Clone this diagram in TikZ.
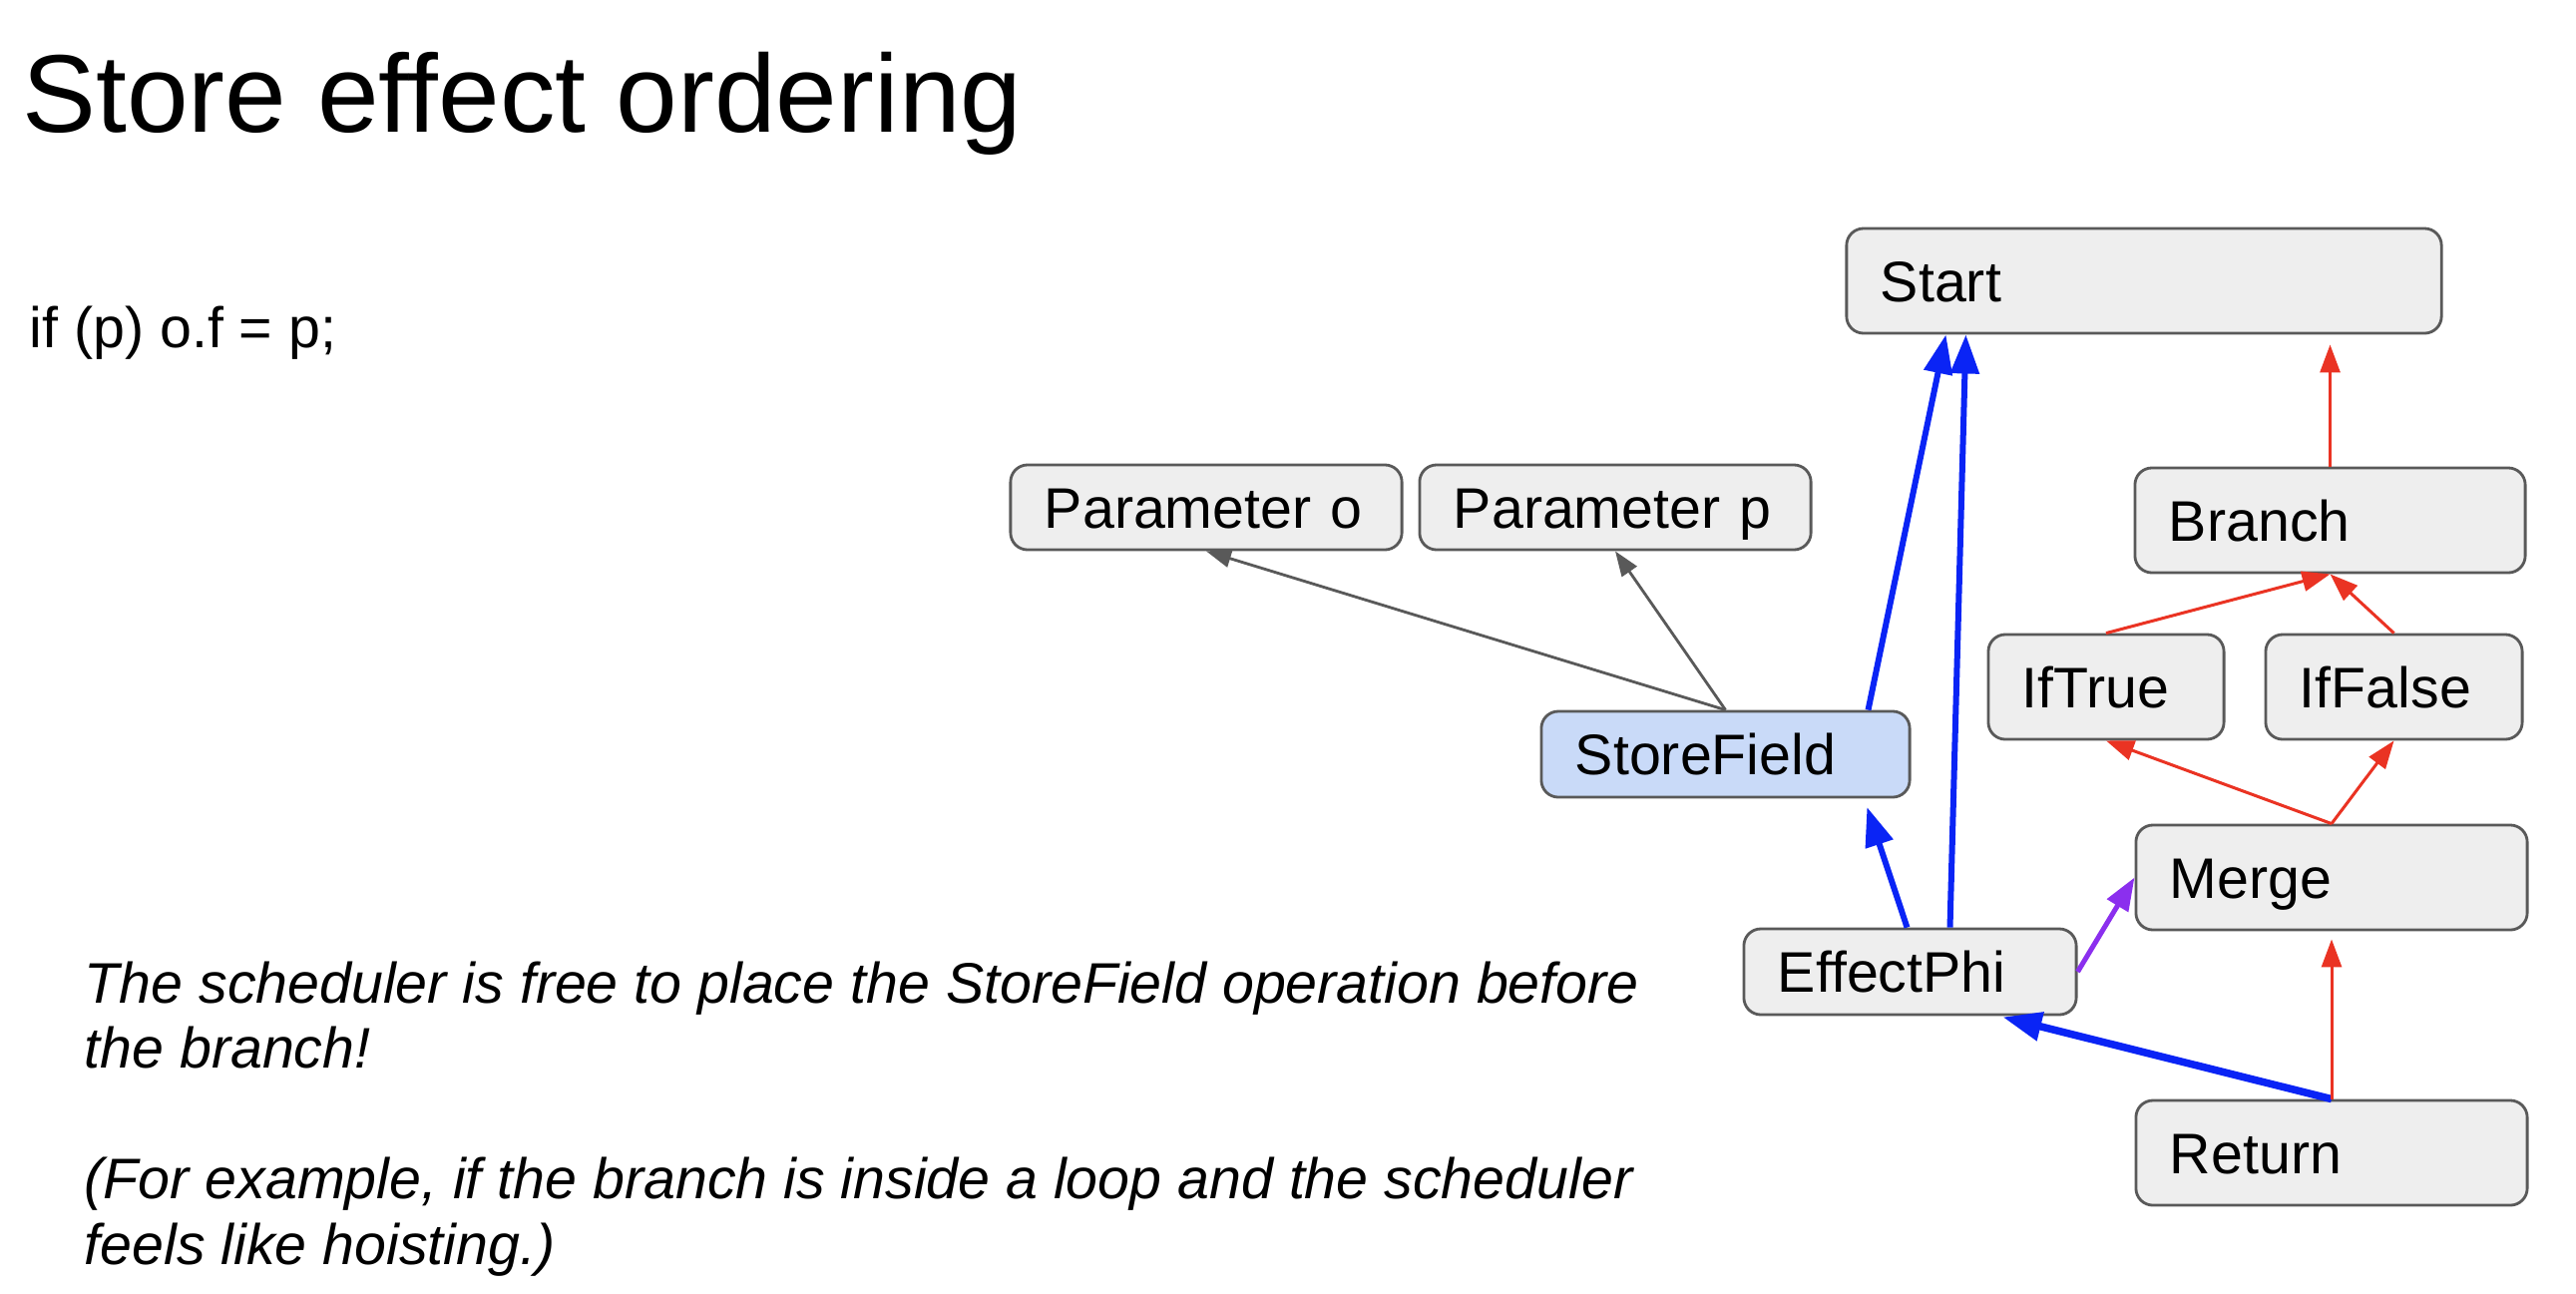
\documentclass[tikz,border=0pt]{standalone}
\usepackage{fontspec}
\setmainfont{Liberation Sans}
\usetikzlibrary{arrows.meta,calc}

\definecolor{opfill}{HTML}{EEEEEE}
\definecolor{opline}{HTML}{595959}
\definecolor{storefill}{HTML}{C9DAF8}
\definecolor{effblue}{HTML}{0A24F5}
\definecolor{ctlred}{HTML}{EA3323}
\definecolor{phipurple}{HTML}{8B2FEE}

\begin{document}
\begin{tikzpicture}[x=0.01cm, y=-0.01cm,
	every node/.style={font=\fontsize{16.3}{18.6}\selectfont},
	op/.style={draw=opline, fill=opfill, line width=0.8pt, rounded corners=0.17cm,
		align=left, inner xsep=0.34cm, inner ysep=0pt, text height=11.7pt, text depth=0pt},
	tall/.style={minimum height=1.05cm},
	short/.style={minimum height=0.86cm},
	effedge/.style={draw=effblue, line width=0.06cm, -{Triangle[length=0.39cm,width=0.28cm]}},
	ctledge/.style={draw=ctlred, line width=0.03cm, -{Triangle[length=0.28cm,width=0.2cm]}},
	valedge/.style={draw=opline, line width=0.028cm, -{Triangle[length=0.25cm,width=0.18cm]}}]
	\useasboundingbox (0,0) rectangle (2582,1296);

	\node[anchor=base west, inner sep=0pt, font=\fontsize{31.5}{36}\selectfont] (title) at (22,132) {Store effect ordering};
	\node[anchor=base west, inner sep=0pt] (code) at (29,348) {if (p) o.f = p;};
	% base of a multi-line node is its last line
	\node[anchor=base west, inner sep=0pt, align=left, font=\fontsize{16.3}{18.6}\selectfont\itshape] (note) at (84,1267)
		{The scheduler is free to place the StoreField operation before\\the branch!\\[18.6pt](For example, if the branch is inside a loop and the scheduler\\feels like hoisting.)};

	% graph nodes
	\node[op, tall, text width=5.28cm] (start) at (2149,281.5) {Start};
	\node[op, short, text width=3.24cm, minimum height=0.85cm] (paro) at (1209,508.5) {Parameter o};
	\node[op, short, text width=3.24cm, minimum height=0.85cm] (parp) at (1619,508.5) {Parameter p};
	\node[op, tall, text width=3.23cm] (branch) at (2335.5,521.5) {Branch};
	\node[op, tall, text width=1.68cm] (iftrue) at (2111,688.5) {IfTrue};
	\node[op, tall, text width=1.89cm] (iffalse) at (2399.5,688.5) {IfFalse};
	\node[op, short, fill=storefill, text width=3.01cm] (store) at (1729.5,756) {StoreField};
	\node[op, tall, text width=3.24cm] (merge) at (2337,879.5) {Merge};
	\node[op, short, text width=2.65cm] (ephi) at (1914.5,974) {EffectPhi};
	\node[op, tall, text width=3.24cm] (ret) at (2337,1155.5) {Return};

	% value inputs
	\draw[valedge] (store.north) -- (paro.south);
	\draw[valedge] (store.north) -- (parp.south);
	% effect chain
	\draw[effedge] ($(store.north east)+(-43,0)$) -- ($(start.south west)+(101,0)$);
	\draw[effedge] ($(ephi.north west)+(208,0)$) -- ($(start.south west)+(121,0)$);
	\draw[effedge, shorten >=0.09cm] ($(ephi.north west)+(165,0)$) -- ($(store.south east)+(-47,0)$);
	\draw[effedge, line width=0.075cm, shorten >=0.04cm] (ret.north) -- ($(ephi.south east)+(-79,0)$);
	\draw[draw=phipurple, line width=0.05cm, -{Triangle[length=0.33cm,width=0.24cm]}] (ephi.east) -- (merge.west);
	% control chain
	\draw[ctledge, shorten >=0.08cm] (ret.north) -- (merge.south);
	\draw[ctledge] (merge.north) -- (iftrue.south);
	\draw[ctledge] (merge.north) -- (iffalse.south);
	\draw[ctledge] (iftrue.north) -- (branch.south);
	\draw[ctledge] (iffalse.north) -- (branch.south);
	\draw[ctledge, shorten >=0.1cm] (branch.north) -- (branch.north |- start.south);
\end{tikzpicture}
\end{document}
